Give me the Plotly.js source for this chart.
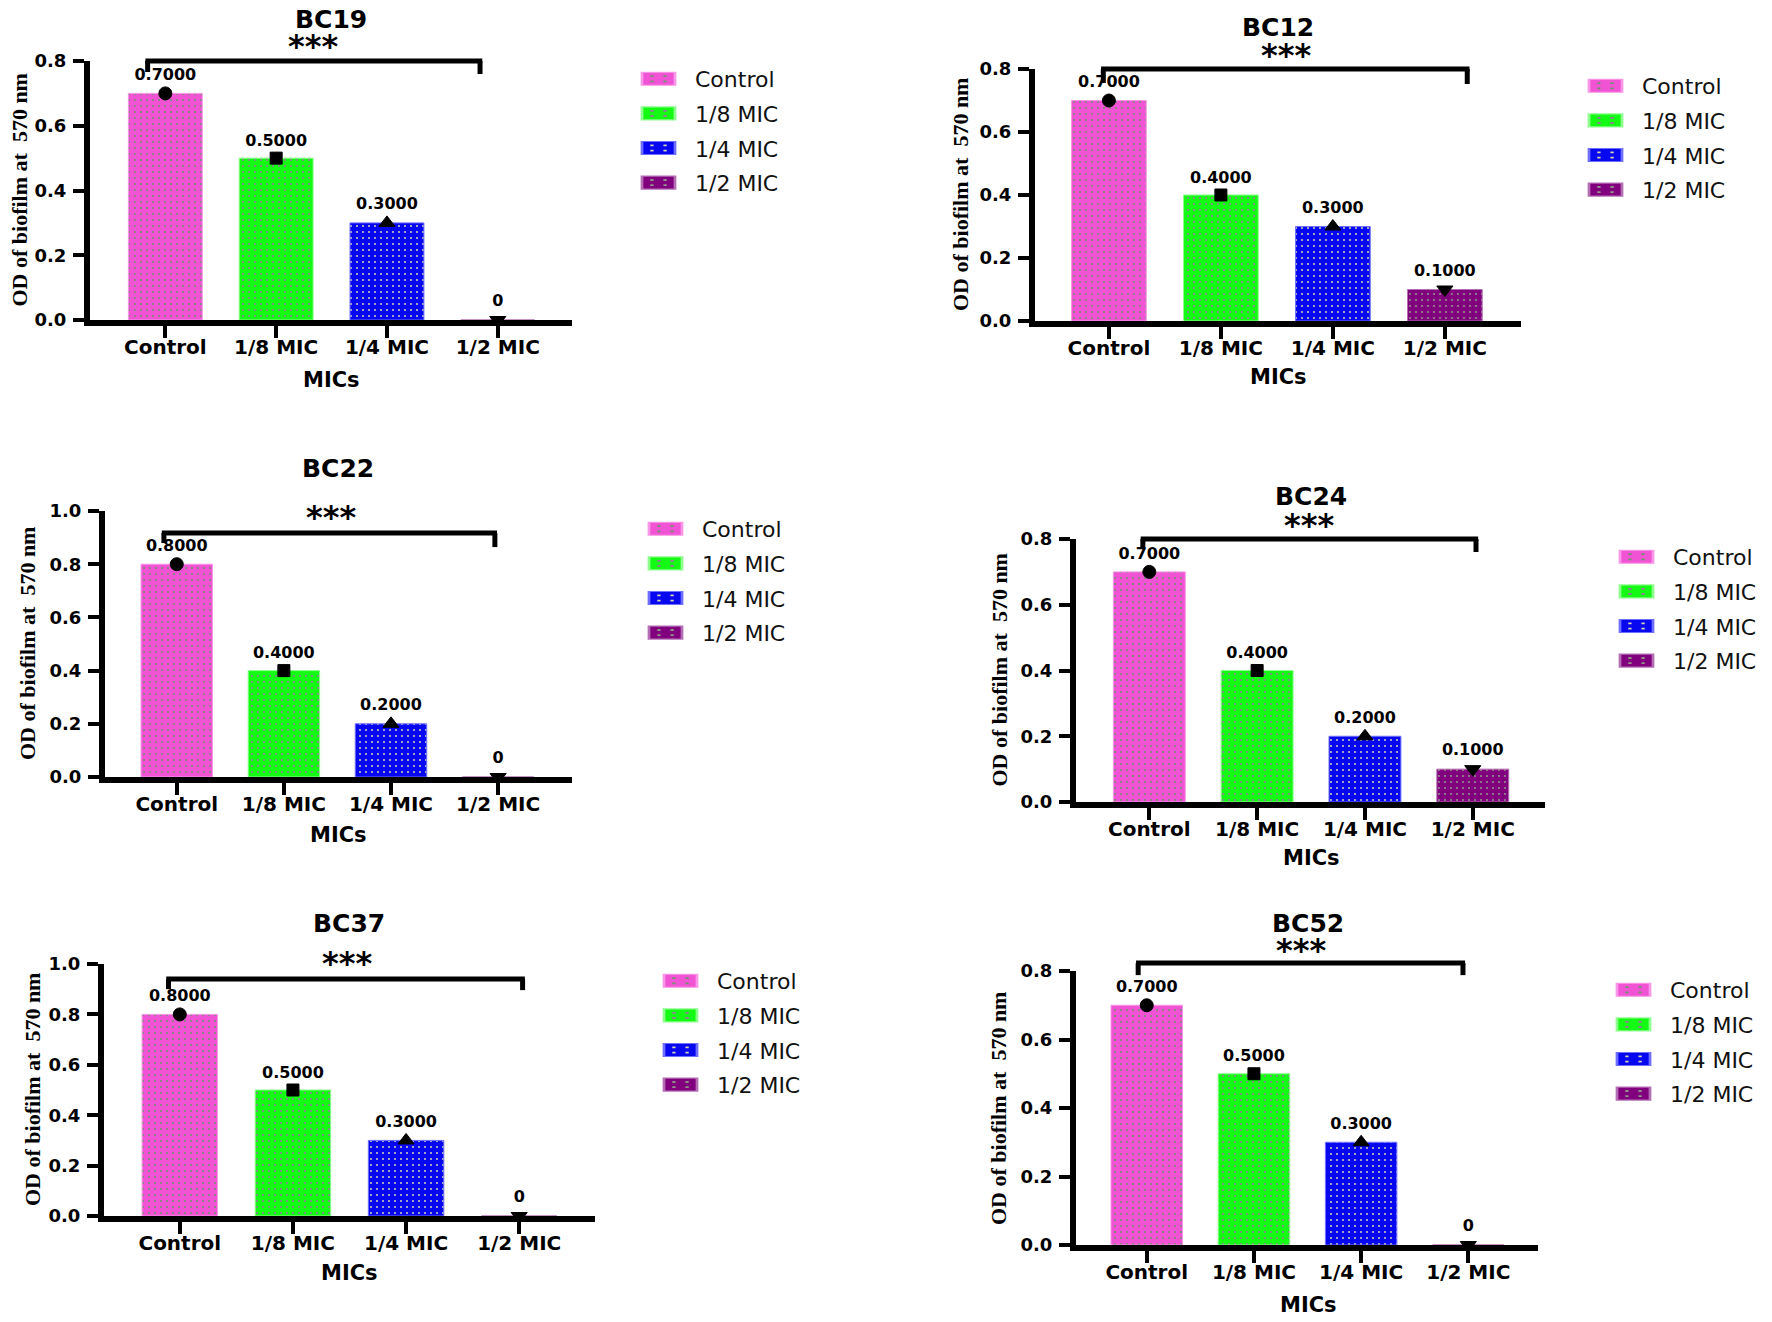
<!DOCTYPE html>
<html>
<head>
<meta charset="utf-8">
<script src="https://cdn.plot.ly/plotly-3.0.1.min.js"></script>
<style>
  html, body { margin: 0; padding: 0; background: #fff; }
  #chart { width: 1772px; height: 1322px; }
</style>
</head>
<body>
<div id="chart"></div>
<script>
const W = 1772, H = 1322;

// data
const categories = ['Control', '1/8 MIC', '1/4 MIC', '1/2 MIC'];
const panelNames = ['BC19', 'BC12', 'BC22', 'BC24', 'BC37', 'BC52'];
const bc19 = [0.7, 0.5, 0.3, 0];
const bc12 = [0.7, 0.4, 0.3, 0.1];
const bc22 = [0.8, 0.4, 0.2, 0];
const bc24 = [0.7, 0.4, 0.2, 0.1];
const bc37 = [0.8, 0.5, 0.3, 0];
const bc52 = [0.7, 0.5, 0.3, 0];
const panelValues = [bc19, bc12, bc22, bc24, bc37, bc52];
const significance = '***';
const xTitle = 'MICs';
const yTitle = 'OD of biofilm at  570 nm';

// styles
const barColors = ['rgb(240,84,212)', 'rgb(20,250,20)', 'rgb(8,8,240)', 'rgb(128,0,126)'];
const barEdges = ['rgb(250,150,232)', 'rgb(140,255,140)', 'rgb(110,110,255)', 'rgb(180,110,180)'];
const dotColors = ['rgb(100,150,100)', 'rgb(170,100,175)', 'rgb(235,235,175)', 'rgb(150,170,140)'];
const pointSymbols = ['circle', 'square', 'triangle-up', 'triangle-down'];
const pointSizes = [13, 12, 14, 14];

// legend item geometry: text starts at itemwidth + 10 inside each item
const LEG_ITEMWIDTH = 50;
const LEG_TEXT_X = LEG_ITEMWIDTH + 10;

// panel geometry, page pixels
const panels = [
  {x0: 90, x1: 572, top: 61, bottom: 320, ymax: 0.8, xr: [-0.68, 3.67], tx: 331, ty: 19, sx: 313, sy: 46, ytx: 19, mics: 380, legText: 695, legRow: 79, br: [-0.16, 2.84, 0.8, 11, 13]},
  {x0: 1035, x1: 1521, top: 69, bottom: 321, ymax: 0.8, xr: [-0.66, 3.68], tx: 1278, ty: 28, sx: 1286, sy: 55, ytx: 960, mics: 377, legText: 1642, legRow: 86, br: [-0.05, 3.2, 0.8, 14, 15]},
  {x0: 105, x1: 572, top: 511, bottom: 777, ymax: 1.0, xr: [-0.67, 3.69], tx: 338, ty: 468, sx: 331, sy: 517, ytx: 27, mics: 835, legText: 702, legRow: 529, br: [-0.12, 2.97, 0.917, 10, 14]},
  {x0: 1076, x1: 1545, top: 539, bottom: 802, ymax: 0.8, xr: [-0.68, 3.67], tx: 1311, ty: 496, sx: 1309, sy: 525, ytx: 999, mics: 858, legText: 1673, legRow: 557, br: [-0.06, 3.03, 0.8, 9, 13]},
  {x0: 104, x1: 595, top: 964, bottom: 1216, ymax: 1.0, xr: [-0.67, 3.67], tx: 349, ty: 924, sx: 347, sy: 963, ytx: 32, mics: 1273, legText: 717, legRow: 981, br: [-0.1, 3.03, 0.94, 10, 11]},
  {x0: 1076, x1: 1538, top: 971, bottom: 1245, ymax: 0.8, xr: [-0.66, 3.65], tx: 1308, ty: 924, sx: 1301, sy: 950, ytx: 998, mics: 1305, legText: 1670, legRow: 990, br: [-0.08, 2.95, 0.823, 12, 12]}
];

const px = x => x / W;
const py = y => 1 - y / H;
const bold = (size, family) => ({family: family || 'DejaVu Sans', size: size, color: '#000', weight: 'bold'});

const traces = [];
const annotations = [];
const shapes = [];
const layout = {
  width: W, height: H,
  margin: {l: 0, r: 0, t: 0, b: 0},
  paper_bgcolor: '#fff', plot_bgcolor: 'rgba(0,0,0,0)',
  font: {family: 'DejaVu Sans', color: '#000'},
  hovermode: false,
  barmode: 'overlay',
  annotations: annotations,
  shapes: shapes
};

panels.forEach((p, i) => {
  const n = i === 0 ? '' : String(i + 1);
  const xa = 'x' + n, ya = 'y' + n;
  const legendId = 'legend' + n;
  const values = panelValues[i];

  layout['xaxis' + n] = {
    domain: [px(p.x0), px(p.x1)], anchor: ya, type: 'category', range: p.xr,
    showline: true, linewidth: 6, linecolor: '#000',
    ticks: 'outside', ticklen: 12, tickwidth: 4, tickcolor: '#000',
    ticklabelstandoff: -8, tickfont: bold(20),
    showgrid: false, zeroline: false, fixedrange: true
  };
  layout['yaxis' + n] = {
    domain: [py(p.bottom), py(p.top)], anchor: xa, range: [0, p.ymax],
    dtick: 0.2, tickformat: '.1f',
    showline: true, linewidth: 6, linecolor: '#000',
    ticks: 'outside', ticklen: 11, tickwidth: 4, tickcolor: '#000',
    ticklabelstandoff: 3, tickfont: bold(18),
    showgrid: false, zeroline: false, fixedrange: true
  };

  layout[legendId] = {
    x: px(p.legText - LEG_TEXT_X), y: py(p.legRow - 21), xanchor: 'left', yanchor: 'top',
    xref: 'paper', yref: 'paper',
    bgcolor: 'rgba(0,0,0,0)', borderwidth: 0, itemwidth: LEG_ITEMWIDTH,
    traceorder: 'grouped', tracegroupgap: 3,
    font: {family: 'DejaVu Sans', size: 22, color: '#111'}
  };

  categories.forEach((c, k) => {
    traces.push({
      type: 'bar', x: [c], y: [values[k]], xaxis: xa, yaxis: ya,
      name: c, legend: legendId, legendgroup: panelNames[i] + k,
      width: 0.667,
      marker: {
        color: barColors[k],
        line: {color: barEdges[k], width: 1},
        pattern: {shape: '.', fgcolor: dotColors[k], bgcolor: barColors[k], size: 6, solidity: 0.07, fillmode: 'replace'}
      }
    });
  });

  traces.push({
    type: 'scatter', mode: 'markers+text', x: categories, y: values,
    xaxis: xa, yaxis: ya, showlegend: false, cliponaxis: false,
    marker: {color: '#000', opacity: 1, size: pointSizes, symbol: pointSymbols, line: {color: '#000', width: 1}},
    text: values.map(v => v === 0 ? '0' : v.toFixed(4)),
    textposition: 'top center',
    textfont: bold(16)
  });

  // significance bracket: x on the category axis, y on the axis domain
  const [bl, brx, bh, dl, dr] = p.br;
  const yd = bh / p.ymax;
  const perPx = 1 / (p.bottom - p.top);
  const line = {color: '#000', width: 5};
  const yref = ya + ' domain';
  shapes.push({type: 'line', xref: xa, yref: yref, x0: bl - 0.02, x1: brx + 0.02, y0: yd, y1: yd, line: line});
  shapes.push({type: 'line', xref: xa, yref: yref, x0: bl, x1: bl, y0: yd, y1: yd - dl * perPx, line: line});
  shapes.push({type: 'line', xref: xa, yref: yref, x0: brx, x1: brx, y0: yd, y1: yd - dr * perPx, line: line});

  annotations.push({xref: 'paper', yref: 'paper', x: px(p.tx), y: py(p.ty), text: panelNames[i],
    showarrow: false, xanchor: 'center', yanchor: 'middle', font: bold(25)});
  annotations.push({xref: 'paper', yref: 'paper', x: px(p.sx), y: py(p.sy), text: significance,
    showarrow: false, xanchor: 'center', yanchor: 'middle', font: bold(32)});
  annotations.push({xref: 'paper', yref: 'paper', x: px(p.tx), y: py(p.mics), text: xTitle,
    showarrow: false, xanchor: 'center', yanchor: 'middle', font: bold(21)});
  annotations.push({xref: 'paper', yref: 'paper', x: px(p.ytx), y: py((p.top + p.bottom) / 2), text: yTitle,
    textangle: -90, showarrow: false, xanchor: 'center', yanchor: 'middle',
    font: bold(22, 'Liberation Serif')});
});

// stretch the 12x12 legend swatches into the flat 33x13 boxes of the original,
// ending 20px before the legend text
function widenSwatches() {
  const centre = LEG_TEXT_X - 20 - 16.5;
  document.querySelectorAll('g.traces g.legendpoints path').forEach(sw => {
    const bb = sw.getBBox();
    if (!bb.width || !bb.height) return;
    const cx = bb.x + bb.width / 2, cy = bb.y + bb.height / 2;
    sw.setAttribute('transform',
      'translate(' + centre + ',0) scale(' + (33 / bb.width) + ',' + (13 / bb.height) + ') translate(' + (-cx) + ',' + (-cy) + ')');
  });
}

Plotly.newPlot('chart', traces, layout, {displayModeBar: false, staticPlot: true}).then(() => {
  widenSwatches();
  setTimeout(widenSwatches, 50);
  setTimeout(widenSwatches, 400);
});
</script>
</body>
</html>
